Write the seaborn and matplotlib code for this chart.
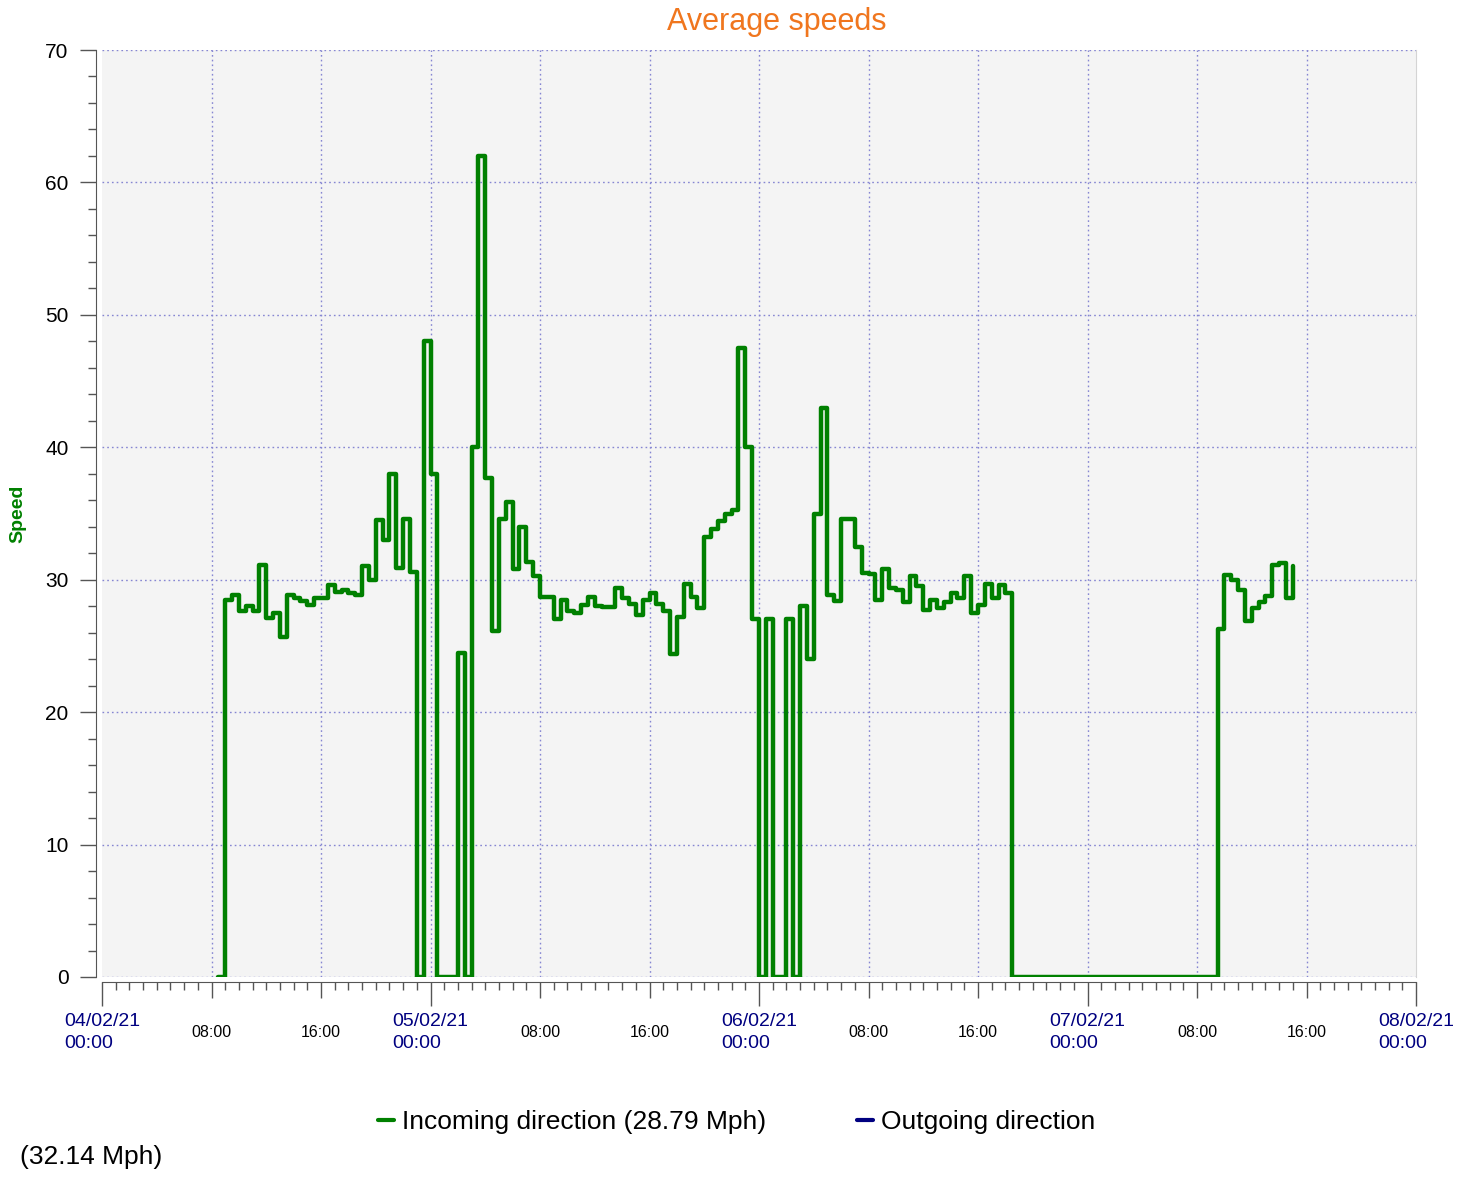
import numpy as np
import pandas as pd
import matplotlib
matplotlib.use("Agg")
import matplotlib.pyplot as plt
import matplotlib.dates as mdates
from matplotlib.ticker import MultipleLocator, FuncFormatter
from matplotlib.lines import Line2D
import seaborn as sns

# half-hour average speeds, incoming direction, starting 04/02/21 08:30
speeds_day0 = [0, 28.5, 28.85, 27.6, 28.0, 27.6, 31.1, 27.1, 27.5, 25.7, 28.85, 28.6,
               28.4, 28.1, 28.6, 28.6, 29.6, 29.05, 29.2, 29.0, 28.85, 31.0, 30.0, 34.5,
               33.0, 38.0, 30.9, 34.6, 30.6, 0, 48.0]
speeds_day1 = [38.0, 0, 0, 0, 24.5, 0, 40.0, 62.0, 37.7, 26.1, 34.6, 35.9,
               30.8, 34.0, 31.3, 30.25, 28.7, 28.7, 27.0, 28.5, 27.65, 27.5, 28.1, 28.7,
               28.05, 27.95, 27.95, 29.35, 28.6, 28.2, 27.35, 28.5, 29.0, 28.15, 27.65, 24.4,
               27.15, 29.7, 28.7, 27.85, 33.2, 33.8, 34.4, 34.95, 35.3, 47.5, 40.0, 27.0]
speeds_day2 = [0, 27.0, 0, 0, 27.0, 0, 28.0, 24.05, 35.0, 43.0, 28.85, 28.4,
               34.6, 34.6, 32.5, 30.5, 30.4, 28.5, 30.8, 29.35, 29.2, 28.35, 30.25, 29.5,
               27.7, 28.5, 27.85, 28.35, 29.0, 28.65, 30.25, 27.45, 28.1, 29.65, 28.6, 29.6,
               29.0, 0, 0, 0, 0, 0, 0, 0, 0, 0, 0, 0]
speeds_day3 = [0, 0, 0, 0, 0, 0, 0, 0, 0, 0, 0, 0, 0, 0, 0, 0, 0, 0, 0,
               26.25, 30.35, 30.0, 29.25, 26.9, 27.85, 28.35, 28.8, 31.1, 31.25, 28.6, 31.0]

speeds = speeds_day0 + speeds_day1 + speeds_day2 + speeds_day3
times = pd.date_range("2021-02-04 08:30", periods=len(speeds), freq="30min")

title = "Average speeds"
legend_labels = ["Incoming direction (28.79 Mph)", "Outgoing direction"]
outgoing_avg = "(32.14 Mph)"

green = "#008000"
navy = "#000080"
grid_col = "#8686d2"
axis_col = "#555555"

sns.set_style("white")
plt.rcParams["font.family"] = ["Liberation Sans", "DejaVu Sans"]
plt.rcParams["text.color"] = "black"

W, H = 1469, 1177
fig = plt.figure(figsize=(W / 100, H / 100), dpi=100)
ax = fig.add_axes([102 / W, 1 - 977 / H, (1416 - 102) / W, (977 - 50) / H])
ax.set_facecolor("#f4f4f4")

df = pd.DataFrame({"time": times, "speed": speeds})
sns.lineplot(data=df, x="time", y="speed", ax=ax, estimator=None,
             drawstyle="steps-post", color=green, linewidth=3.2, zorder=3)

ax.set_xlim(pd.Timestamp("2021-02-04 00:00"), pd.Timestamp("2021-02-08 00:00"))
ax.set_ylim(0, 70)

# y axis
ax.yaxis.set_major_locator(MultipleLocator(10))
ax.yaxis.set_minor_locator(MultipleLocator(2))
ax.tick_params(axis="y", which="both", left=True)
ax.tick_params(axis="y", which="major", length=11.5, width=1, color=axis_col,
               pad=8, labelsize=15, labelcolor="black")
ax.tick_params(axis="y", which="minor", length=5.8, width=1, color=axis_col)

# x axis
ax.xaxis.set_major_locator(mdates.HourLocator(byhour=[0, 8, 16]))
ax.xaxis.set_minor_locator(mdates.HourLocator())


def fmt(x, pos):
    d = mdates.num2date(x)
    if d.hour == 0:
        return d.strftime("%d/%m/%y\n%H:%M")
    return d.strftime("%H:%M")


ax.xaxis.set_major_formatter(FuncFormatter(fmt))
ax.tick_params(axis="x", which="both", bottom=True)
ax.tick_params(axis="x", which="major", length=11.5, width=1, color=axis_col, pad=25)
ax.tick_params(axis="x", which="minor", length=5.8, width=1, color=axis_col)

ax.spines["top"].set_visible(False)
ax.spines["right"].set_color("#d4d4d4")
ax.spines["left"].set_position(("outward", 4.5))
ax.spines["bottom"].set_position(("outward", 3.6))
ax.spines["left"].set_color(axis_col)
ax.spines["bottom"].set_color(axis_col)

ax.grid(True, which="major", color=grid_col, linestyle=(0, (1.2, 2.2)), linewidth=1)
ax.set_xlabel("")
ax.set_ylabel("Speed", color=green, fontsize=14, fontweight="bold", labelpad=0)
ax.yaxis.set_label_coords(-76 / (1416 - 102), 0.5)

fig.canvas.draw()
locs = ax.xaxis.get_majorticklocs()
xticks = ax.xaxis.get_major_ticks()
for tick, loc in zip(xticks, locs):
    d = mdates.num2date(loc)
    tick.label1.set_verticalalignment("center")
    if d.hour == 0:
        tick.tick1line.set_markersize(17.3)
        tick.label1.set_color(navy)
        tick.label1.set_fontsize(14)
        tick.label1.set_multialignment("left")
        tick.label1.set_linespacing(1.35)
    else:
        tick.label1.set_color("black")
        tick.label1.set_fontsize(11.5)
# no gridlines on the plot frame edges
xticks[0].gridline.set_visible(False)
xticks[len(locs) - 1].gridline.set_visible(False)
yticks = ax.yaxis.get_major_ticks()
yticks[len(ax.yaxis.get_majorticklocs()) - 1].gridline.set_visible(False)

fig.text(777 / W, 1 - 22 / H, title, color="#f0761e", fontsize=22,
         ha="center", va="center")

handles = [Line2D([], [], color=green, linewidth=3),
           Line2D([], [], color=navy, linewidth=3)]
fig.legend(handles, legend_labels, ncol=2, frameon=False, fontsize=19,
           loc="center left", bbox_to_anchor=(378 / W, 1 - 1122 / H),
           borderaxespad=0, borderpad=0, handlelength=0.6, handletextpad=0.3,
           columnspacing=3.45, labelcolor="black")
fig.text(20 / W, 1 - 1157 / H, outgoing_avg, fontsize=19, ha="left", va="center",
         color="black")

fig.savefig("out.png", dpi=100)
